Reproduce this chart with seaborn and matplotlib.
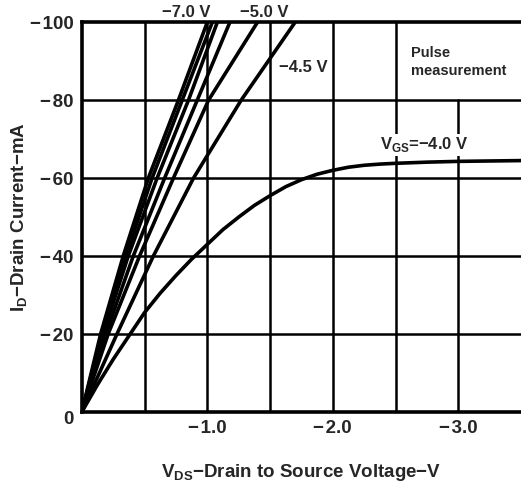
import numpy as np
import pandas as pd
import matplotlib
matplotlib.use("Agg")
import matplotlib.pyplot as plt
import seaborn as sns

# drain current levels (mA)
id_steps = [0, -20, -40, -60, -80, -100]

# V_DS where each V_GS curve crosses those current levels
vds_7_0 = [0, -0.15, -0.33, -0.53, -0.77, -1.00]
vds_6_5 = [0, -0.16, -0.35, -0.56, -0.80, -1.04]
vds_6_0 = [0, -0.17, -0.37, -0.60, -0.85, -1.08]
vds_5_5 = [0, -0.19, -0.41, -0.66, -0.92, -1.18]
vds_5_0 = [0, -0.21, -0.46, -0.73, -1.01, -1.40]
vds_4_5 = [0, -0.28, -0.57, -0.89, -1.27, -1.70]

# V_GS = -4.0 V saturates, so it is read the other way round
vds_4_0 = [0, -0.125, -0.25, -0.375, -0.5, -0.625, -0.75, -0.875, -1.0,
           -1.125, -1.25, -1.375, -1.5, -1.625, -1.75, -1.875, -2.0,
           -2.125, -2.25, -2.375, -2.5, -2.75, -3.0, -3.25, -3.5]
id_4_0 = [0, -7, -13.5, -19.5, -25.5, -30.5, -35, -39.2, -43,
          -46.8, -50, -53, -55.5, -57.8, -59.6, -61, -62,
          -62.8, -63.3, -63.6, -63.8, -64.1, -64.3, -64.4, -64.5]

x_ticks = [-1.0, -2.0, -3.0]
x_labels = ["\u2212\u200a1.0", "\u2212\u200a2.0", "\u2212\u200a3.0"]
y_ticks = [-20, -40, -60, -80, -100]
y_labels = ["\u2212\u200a20", "\u2212\u200a40", "\u2212\u200a60",
            "\u2212\u200a80", "\u2212\u200a100"]

frames = []
for vgs, vds in [(-7.0, vds_7_0), (-6.5, vds_6_5), (-6.0, vds_6_0),
                 (-5.5, vds_5_5), (-5.0, vds_5_0), (-4.5, vds_4_5)]:
    frames.append(pd.DataFrame({"VGS": vgs, "VDS": vds, "ID": id_steps}))
frames.append(pd.DataFrame({"VGS": -4.0, "VDS": vds_4_0, "ID": id_4_0}))
df = pd.concat(frames, ignore_index=True)

sns.set_style("white")
plt.rcParams["font.family"] = ["Liberation Sans", "DejaVu Sans"]
plt.rcParams["font.weight"] = "bold"
plt.rcParams["axes.labelweight"] = "bold"

fig = plt.figure(figsize=(5.21, 4.83), dpi=100)
ax = fig.add_axes([0.157, 0.147, 0.843, 0.807])

# grid, drawn by hand so the one behind the note can stop short
for xv in np.arange(-0.5, -3.5, -0.5):
    top = 0.8 if abs(xv + 3.0) < 1e-6 else 1.0
    ax.axvline(xv, ymin=0, ymax=top, color="black", lw=1.8, zorder=1)
for yv in y_ticks[:-1]:
    ax.axhline(yv, color="black", lw=1.8, zorder=1)

sns.lineplot(data=df, x="VDS", y="ID", units="VGS", estimator=None,
             sort=False, color="black", lw=2.6, ax=ax, zorder=3)

ax.set_xlim(0, -3.5)
ax.set_ylim(0, -100)
ax.set_xticks(x_ticks)
ax.set_xticklabels(x_labels)
ax.set_yticks(y_ticks)
ax.set_yticklabels(y_labels)
ax.tick_params(length=0, labelsize=13.5, pad=6)

for side in ["left", "bottom", "top"]:
    ax.spines[side].set_linewidth(2.6)
    ax.spines[side].set_color("black")
ax.spines["right"].set_visible(False)

ax.text(-0.03, -0.02, "0", transform=ax.transAxes, ha="center", va="center",
        fontsize=13.5)

ax.set_xlabel("V$_\\mathregular{DS}$\u2212Drain to Source Voltage\u2212V",
              fontsize=13.5, labelpad=18)
ax.set_ylabel("I$_\\mathregular{D}$\u2212Drain Current\u2212mA", fontsize=13.5,
              labelpad=0)

# curve labels
ax.text(-0.83, -102.6, "\u22127.0 V", ha="center", va="center", fontsize=12,
        clip_on=False)
ax.text(-1.45, -102.6, "\u22125.0 V", ha="center", va="center", fontsize=12,
        clip_on=False)
ax.text(-1.57, -88.5, "\u22124.5 V", ha="left", va="center", fontsize=12,
        zorder=4, bbox=dict(facecolor="white", edgecolor="none", pad=1))
ax.text(-2.62, -89.8, "Pulse\nmeasurement", ha="left", va="center",
        fontsize=10.5, linespacing=1.3, zorder=4)
ax.text(-2.73, -68.5, "V$_\\mathregular{GS}$=\u22124.0 V", ha="center",
        va="center", fontsize=12, zorder=4,
        bbox=dict(facecolor="white", edgecolor="none", pad=1))

plt.savefig("out.png", dpi=100)
